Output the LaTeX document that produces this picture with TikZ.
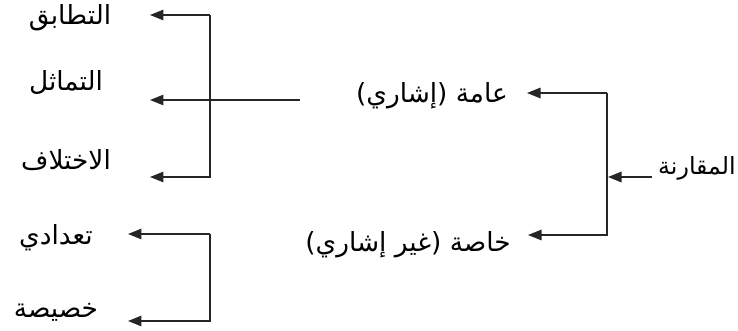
\documentclass[tikz,border=0pt]{standalone}
\usepackage{fontspec}
\usepackage{tikz}
\usetikzlibrary{arrows.meta,positioning}
\newfontfamily\arabicfont[Script=Arabic]{DejaVu Sans}
\TeXXeTstate=1

\tikzset{
  lbl/.style={inner sep=0pt, font=\arabicfont\fontsize{15}{17}\selectfont},
  arr/.style={-{Triangle[length=0.27cm,width=0.21cm]}, line width=0.7pt, black!85}
}

\begin{document}
\begin{tikzpicture}[x=0.02cm,y=-0.02cm]
        \useasboundingbox (0,0) rectangle (738,331);
        % labels
        \node[lbl] (tatabuq) at (70,18) {\beginR التطابق\endR};
        \node[lbl] (tamathul) at (66,82) {\beginR التماثل\endR};
        \node[lbl] (ikhtilaf) at (66,160) {\beginR الاختلاف\endR};
        \node[lbl] (taadadi) at (56,238) {\beginR تعدادي\endR};
        \node[lbl] (khasisa) at (56,312) {\beginR خصيصة\endR};
        \node[lbl] (amma) at (432,96) {\beginR عامة (إشاري)\endR};
        \node[lbl] (khassa) at (408,245) {\beginR خاصة (غير إشاري)\endR};
        \node[lbl, font=\arabicfont\fontsize{13.5}{16}\selectfont] (muqarana) at (697,168) {\beginR المقارنة\endR};
        % arrow ends
        \coordinate (t1) at (150,15);
        \coordinate (t2) at (150,100);
        \coordinate (t3) at (150,177);
        \coordinate (t4) at (128,234);
        \coordinate (t5) at (128,321);
        \coordinate (t6) at (527,93);
        \coordinate (t7) at (528,235);
        \coordinate (t8) at (608,177);
        \coordinate (j1) at (210,15);
        \coordinate (j2) at (210,234);
        \coordinate (j3) at (607,93);
        \coordinate (s2) at (300,100);
        \coordinate (s8) at (652,177);
        % connectors
        \draw[arr] (j1) -- (t1);
        \draw[arr] (j1) -- (j1 |- t3) -- (t3);
        \draw[arr] (s2) -- (t2);
        \draw[arr] (j2) -- (t4);
        \draw[arr] (j2) -- (j2 |- t5) -- (t5);
        \draw[arr] (j3) -- (t6);
        \draw[arr] (j3) -- (j3 |- t7) -- (t7);
        \draw[arr] (s8) -- (t8);
    \end{tikzpicture}
\end{document}
